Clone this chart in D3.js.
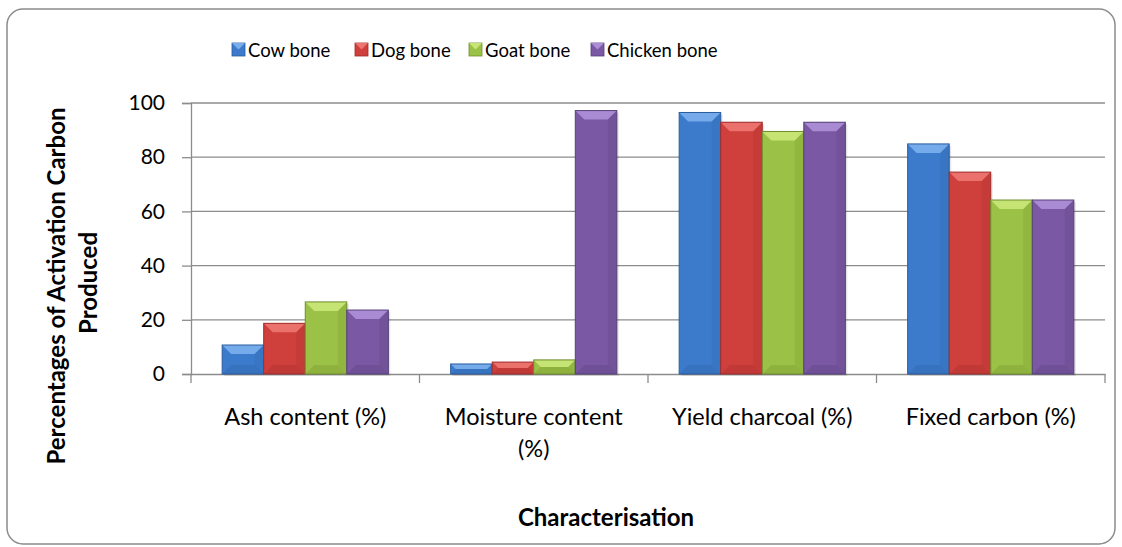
<!DOCTYPE html>
<html>
<head>
<meta charset="utf-8">
<script src="https://cdn.jsdelivr.net/npm/d3@7"></script>
<style>
  body { margin: 0; background: #fff; }
  text { font-family: Lato, "Open Sans", sans-serif; fill: #000; }
</style>
</head>
<body>
<svg id="chart"></svg>
<script>
let categories = ["Ash content (%)", "Moisture content (%)", "Yield charcoal (%)", "Fixed carbon (%)"];
let categoryLines = [["Ash content (%)"], ["Moisture content", "(%)"], ["Yield charcoal (%)"], ["Fixed carbon (%)"]];
let seriesNames = ["Cow bone", "Dog bone", "Goat bone", "Chicken bone"];
let cowBone = [10.7, 3.7, 96.5, 84.9];
let dogBone = [18.7, 4.4, 92.9, 74.5];
let goatBone = [26.6, 5.2, 89.5, 64.2];
let chickenBone = [23.6, 97.2, 92.9, 64.2];
let yTicks = [0, 20, 40, 60, 80, 100];

let colors = ["#3c7bcc", "#cf3f3c", "#9bc246", "#7a58a3"];
let lights = ["#7fb3f0", "#f07a76", "#cdea7c", "#b194dc"];
let darks = ["#2a5d9e", "#9e2c2a", "#6f8e2c", "#57407a"];

let width = 1122, height = 547;
let svg = d3.select("#chart").attr("width", width).attr("height", height);

let x = d3.scaleBand().domain(categories).range([191, 1105]).paddingInner(0).paddingOuter(0);
// excel gap width 150%: 0.75 bar each side
let xs = d3.scaleBand().domain(seriesNames)
    .range([x.bandwidth() * 0.75 / 5.5, x.bandwidth() - x.bandwidth() * 0.75 / 5.5]).padding(0);
let y = d3.scaleLinear().domain([0, 100]).range([374, 103]);

// outer border
svg.append("rect")
    .attr("x", 7).attr("y", 9).attr("width", 1108).attr("height", 535)
    .attr("rx", 16).attr("ry", 16)
    .attr("fill", "#fff").attr("stroke", "#8c8c8c").attr("stroke-width", 1.5);

// gridlines
svg.append("g")
    .selectAll("line")
    .data(yTicks.slice(1))
    .enter().append("line")
    .attr("x1", 191).attr("x2", 1105)
    .attr("y1", d => y(d)).attr("y2", d => y(d))
    .attr("stroke", "#8c8c8c").attr("stroke-width", 1.3);

// y axis
let yAxis = svg.append("g")
    .attr("transform", "translate(191,0)")
    .call(d3.axisLeft(y).tickValues(yTicks).tickSize(9).tickPadding(17));
yAxis.select(".domain").attr("stroke", "#8c8c8c").attr("stroke-width", 1.3);
yAxis.selectAll(".tick line").attr("stroke", "#8c8c8c").attr("stroke-width", 1.3);
yAxis.selectAll(".tick text").attr("font-size", "21px").attr("font-family", "Lato, sans-serif").attr("fill", "#000");

// x axis
let xAxis = svg.append("g")
    .attr("transform", "translate(0,374)")
    .call(d3.axisBottom(x).tickSize(0).tickFormat(""));
xAxis.select(".domain").attr("stroke", "#8c8c8c").attr("stroke-width", 1.3);
xAxis.selectAll(".tick").remove();
svg.append("g").selectAll("line")
    .data(d3.range(categories.length + 1))
    .enter().append("line")
    .attr("x1", i => 191 + i * x.step()).attr("x2", i => 191 + i * x.step())
    .attr("y1", 374).attr("y2", 383)
    .attr("stroke", "#8c8c8c").attr("stroke-width", 1.3);

// category labels
let catLabels = svg.append("g").selectAll("text")
    .data(categories)
    .enter().append("text")
    .attr("x", d => x(d) + x.bandwidth() / 2)
    .attr("y", 425)
    .attr("text-anchor", "middle")
    .attr("font-size", "23.5px");
catLabels.each(function(d, i) {
    let t = d3.select(this);
    categoryLines[i].forEach((line, j) => {
        t.append("tspan").attr("x", x(d) + x.bandwidth() / 2).attr("dy", j === 0 ? 0 : 32).text(line);
    });
});

// bars
let series = [cowBone, dogBone, goatBone, chickenBone];
let bw = xs.bandwidth();
let bev = 9;
series.forEach((vals, s) => {
    let g = svg.append("g").attr("class", "series");
    let bars = g.selectAll("g")
        .data(vals.map((v, i) => ({cat: categories[i], v: v})))
        .enter().append("g")
        .attr("transform", d => "translate(" + (x(d.cat) + xs(seriesNames[s])) + "," + y(d.v) + ")");
    bars.append("rect")
        .attr("x", 2).attr("y", 2)
        .attr("width", bw).attr("height", d => y(0) - y(d.v))
        .attr("fill", "#000").attr("opacity", 0.1);
    bars.append("rect")
        .attr("width", bw).attr("height", d => y(0) - y(d.v))
        .attr("fill", colors[s]);
    // top bevel
    bars.append("path")
        .attr("d", d => {
            let h = Math.min(bev, (y(0) - y(d.v)) / 2);
            return "M0,0 L" + bw + ",0 L" + (bw - h) + "," + h + " L" + h + "," + h + " Z";
        })
        .attr("fill", lights[s]).attr("opacity", 0.85);
    // bottom bevel
    bars.append("path")
        .attr("d", d => {
            let H = y(0) - y(d.v);
            let h = Math.min(bev, H / 2);
            return "M0," + H + " L" + bw + "," + H + " L" + (bw - h) + "," + (H - h) + " L" + h + "," + (H - h) + " Z";
        })
        .attr("fill", darks[s]).attr("opacity", 0.3);
    // right side shade
    bars.append("path")
        .attr("d", d => {
            let H = y(0) - y(d.v);
            let h = Math.min(bev, H / 2);
            return "M" + bw + ",0 L" + bw + "," + H + " L" + (bw - h) + "," + (H - h) + " L" + (bw - h) + "," + h + " Z";
        })
        .attr("fill", darks[s]).attr("opacity", 0.2);
    bars.append("rect")
        .attr("width", bw).attr("height", d => y(0) - y(d.v))
        .attr("fill", "none").attr("stroke", darks[s]).attr("stroke-width", 1);
});

// legend
let legendX = [232, 355, 469, 591];
let legend = svg.append("g").selectAll("g")
    .data(seriesNames)
    .enter().append("g")
    .attr("transform", (d, i) => "translate(" + legendX[i] + ",43)");
legend.append("rect")
    .attr("width", 13).attr("height", 13)
    .attr("fill", (d, i) => colors[i]).attr("stroke", (d, i) => darks[i]).attr("stroke-width", 0.8);
legend.append("path")
    .attr("d", "M0,0 L13,0 L6.5,6.5 Z")
    .attr("fill", (d, i) => lights[i]).attr("opacity", 0.9);
legend.append("text")
    .attr("x", 16).attr("y", 14)
    .attr("font-size", "18.5px")
    .text(d => d);

// axis titles
svg.append("text")
    .attr("transform", "translate(65,286) rotate(-90)")
    .attr("text-anchor", "middle")
    .attr("font-size", "24px").attr("font-weight", "bold")
    .text("Percentages of Activation Carbon");
svg.append("text")
    .attr("transform", "translate(97,283) rotate(-90)")
    .attr("text-anchor", "middle")
    .attr("font-size", "24px").attr("font-weight", "bold")
    .text("Produced");
svg.append("text")
    .attr("x", 606).attr("y", 526)
    .attr("text-anchor", "middle")
    .attr("font-size", "24px").attr("font-weight", "bold")
    .text("Characterisation");
</script>
</body>
</html>
